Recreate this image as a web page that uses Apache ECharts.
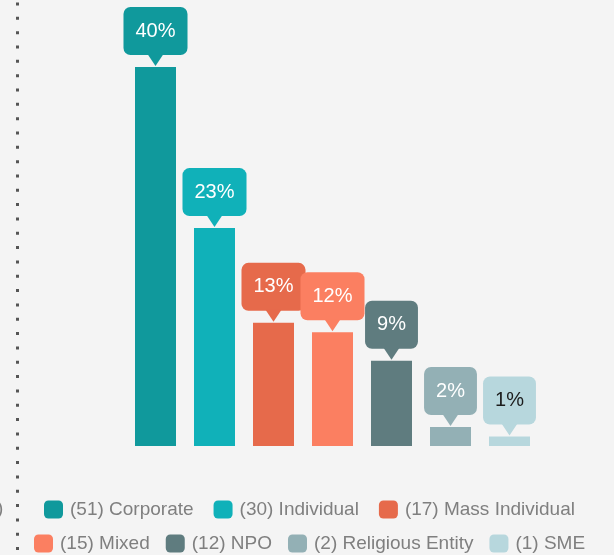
<!DOCTYPE html>
<html>
<head>
<meta charset="utf-8">
<script src="https://cdn.jsdelivr.net/npm/echarts@6/dist/echarts.min.js"></script>
<style>
  html, body { margin: 0; padding: 0; background: #f4f4f4; }
  #chart { width: 614px; height: 555px; }
</style>
</head>
<body>
<div id="chart"></div>
<script>
const categories = ['Corporate', 'Individual', 'Mass Individual', 'Mixed', 'NPO', 'Religious Entity', 'SME'];
const counts = [51, 30, 17, 15, 12, 2, 1];
const percents = [40, 23, 13, 12, 9, 2, 1];

const colors = ['#10999c', '#10b1b9', '#e66a4b', '#fb7f61', '#5f7c7f', '#93b0b5', '#b7d7dd'];
const labelTextColors = ['#ffffff', '#ffffff', '#ffffff', '#ffffff', '#ffffff', '#ffffff', '#1c1c1c'];
const FONT = '"Liberation Sans", Arial, sans-serif';

const names = categories.map((c, i) => '(' + counts[i] + ') ' + c);

const series = categories.map((c, i) => ({
  type: 'bar',
  name: names[i],
  stack: 'all',
  barWidth: 41,
  data: percents.map((p, j) => (j === i ? p : null)),
  itemStyle: { color: colors[i] },
  label: {
    show: true,
    position: 'top',
    distance: 12,
    formatter: '{c}%',
    backgroundColor: colors[i],
    borderRadius: 7,
    padding: [13, 12],
    color: labelTextColors[i],
    fontSize: 20,
    lineHeight: 22,
    fontFamily: FONT
  },
  emphasis: { disabled: true }
}));

series.push({
  type: 'scatter',
  name: 'pointer',
  silent: true,
  symbol: 'path://M0,0L16,0L8,12Z',
  symbolSize: [16, 12],
  symbolOffset: [0, -7],
  data: percents.map((p, i) => ({ value: [i, p], itemStyle: { color: colors[i], opacity: 1 } })),
  z: 3
});

const legendBase = {
  padding: 0,
  itemWidth: 19,
  itemHeight: 18,
  itemGap: 16,
  icon: 'roundRect',
  selectedMode: false,
  textStyle: { fontSize: 19, color: '#7f7f7f', fontFamily: FONT, padding: [0, 0, 0, 2] }
};

const chart = echarts.init(document.getElementById('chart'));
chart.setOption({
  backgroundColor: '#f4f4f4',
  animation: false,
  grid: { left: 126, right: 75, top: 67, bottom: 109 },
  xAxis: {
    type: 'category',
    data: categories,
    show: false
  },
  yAxis: { type: 'value', min: 0, max: 40, show: false },
  legend: [
    Object.assign({}, legendBase, { data: names.slice(0, 3), left: 44, top: 500, itemGap: 20 }),
    Object.assign({}, legendBase, { data: names.slice(3), left: 34, top: 534 })
  ],
  graphic: [
    {
      type: 'line',
      silent: true,
      shape: { x1: 17.5, y1: 2.5, x2: 17.5, y2: 560 },
      style: { stroke: '#555555', lineWidth: 3, lineDash: [3, 11.33] }
    },
    {
      type: 'text',
      silent: true,
      left: -3,
      top: 499,
      style: { text: ')', fontSize: 19, fill: '#7f7f7f', fontFamily: FONT }
    }
  ],
  series: series
});
</script>
</body>
</html>
